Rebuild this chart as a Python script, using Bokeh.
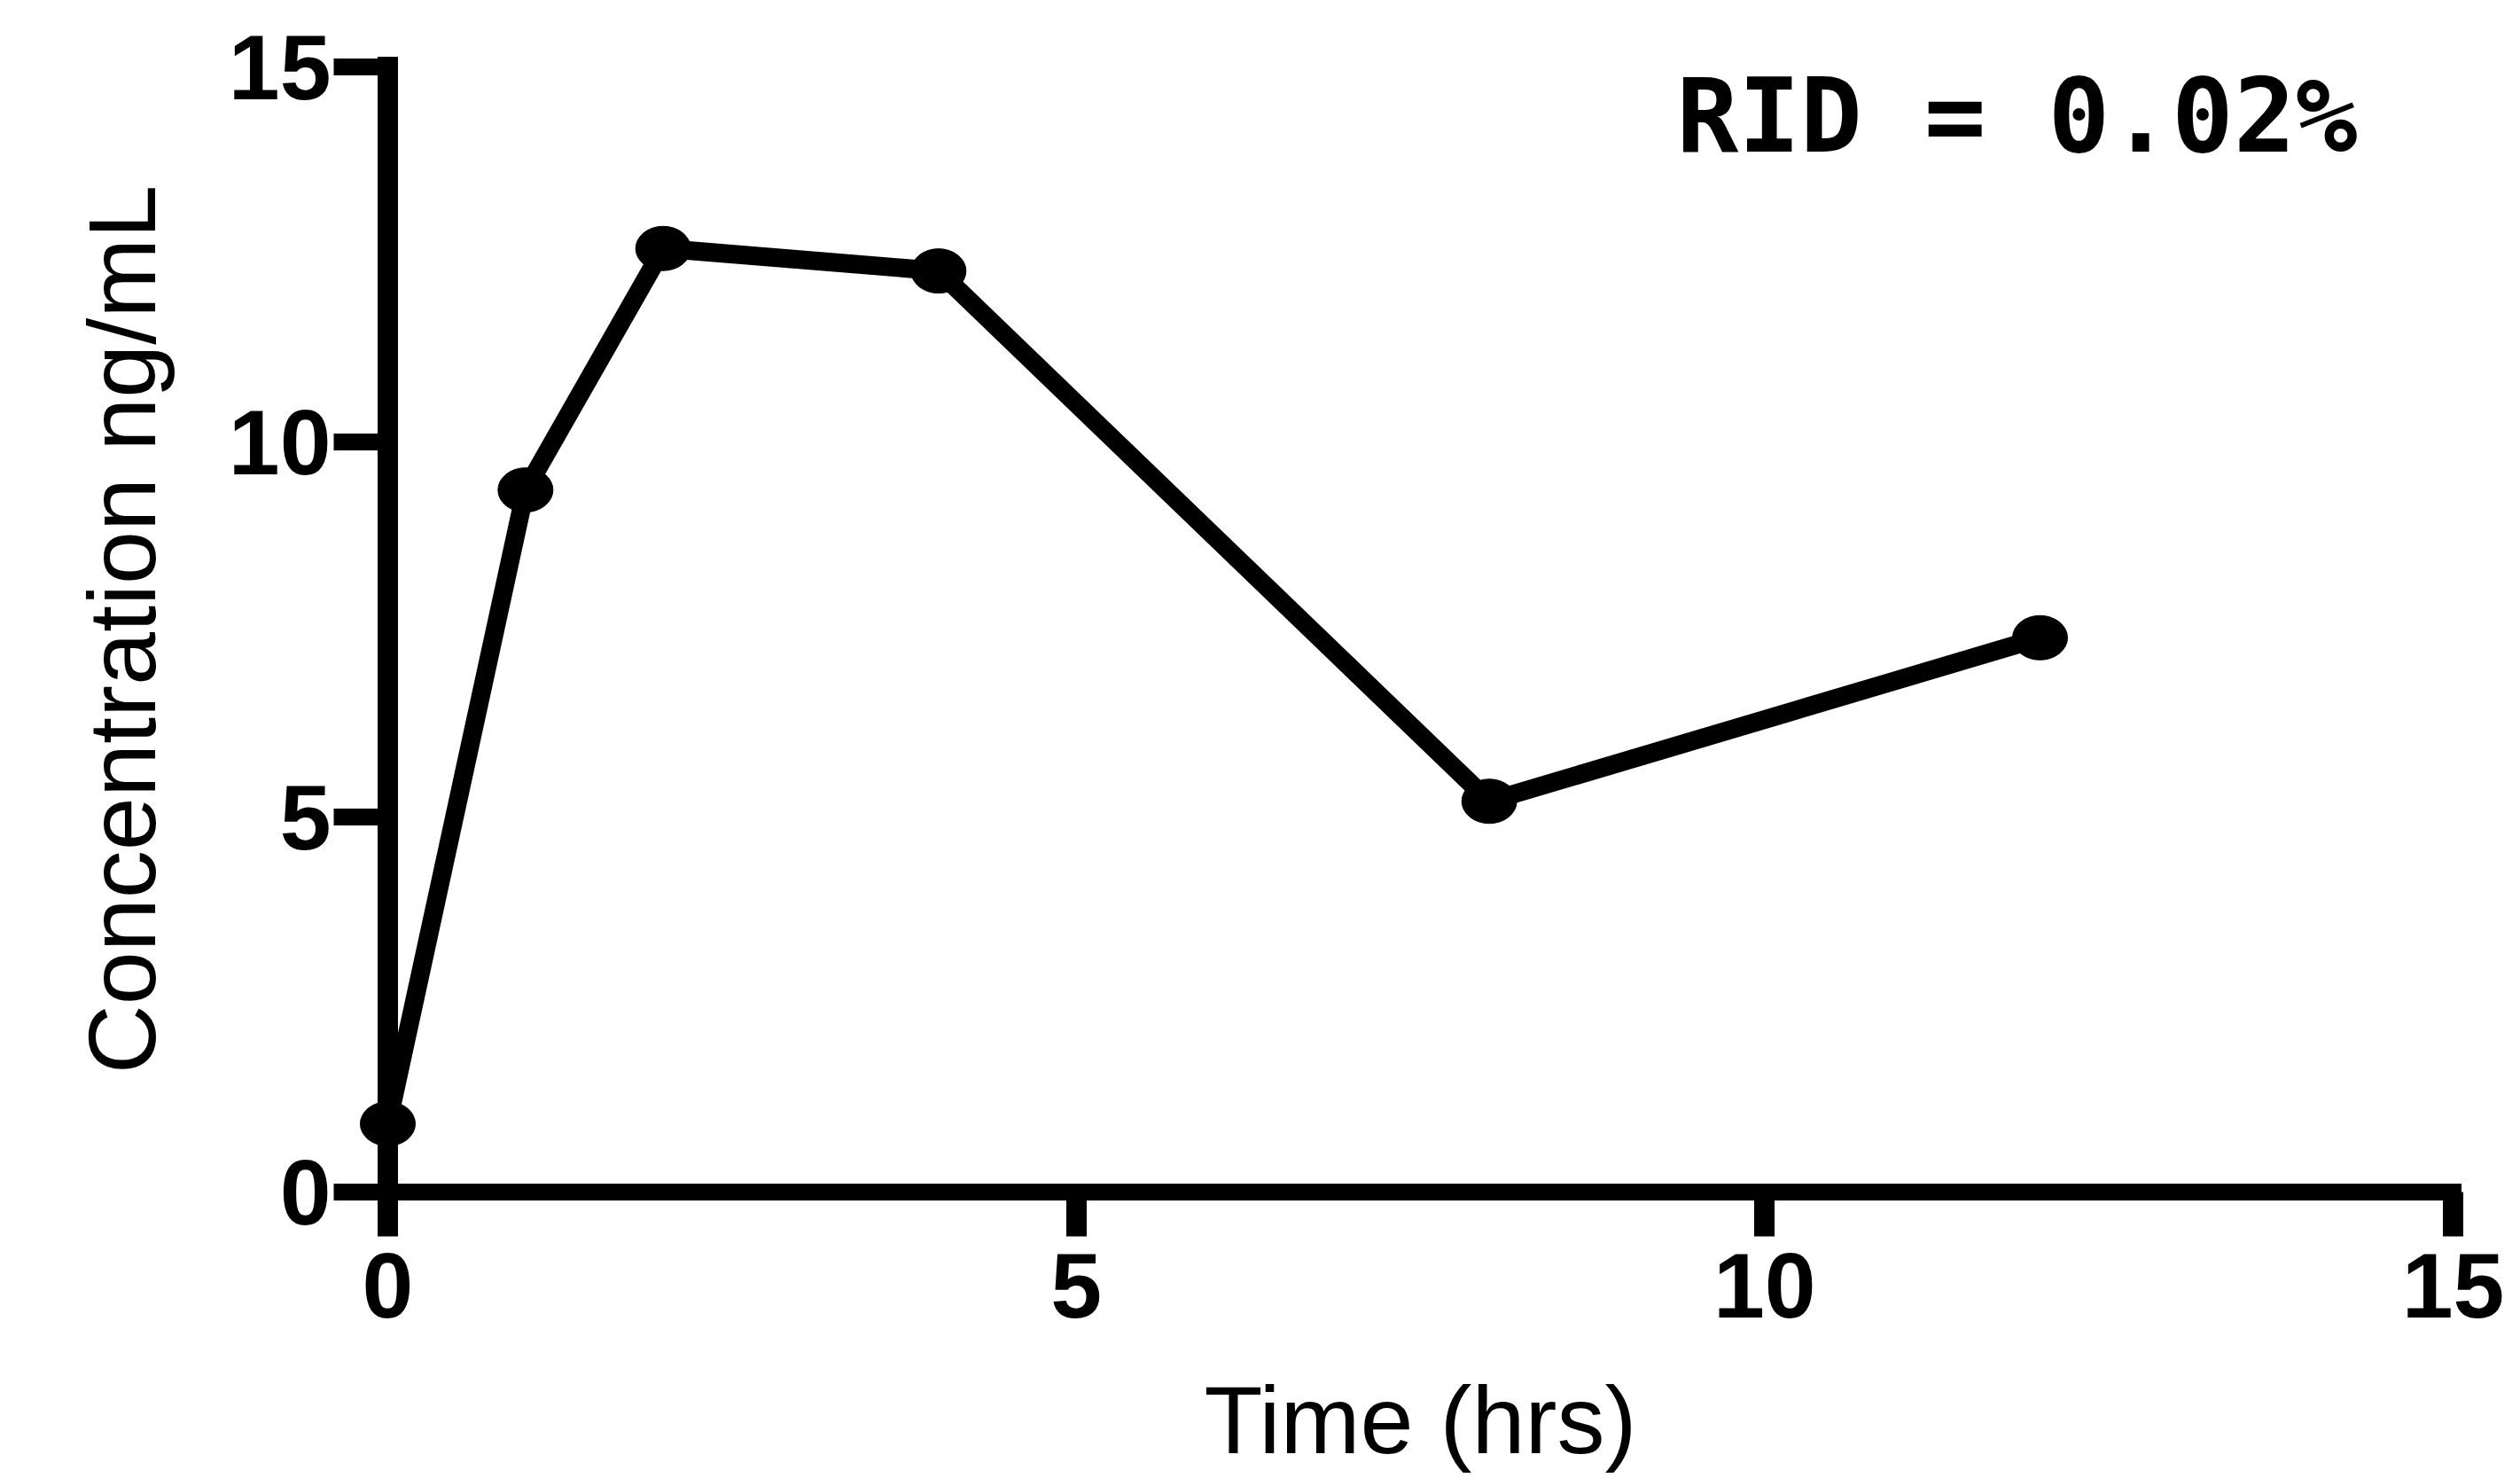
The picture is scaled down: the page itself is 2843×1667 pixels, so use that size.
from bokeh.plotting import figure
from bokeh.models import FixedTicker, Label, ColumnDataSource
from bokeh.embed import file_html
from bokeh.resources import INLINE

# ---- data ----
time_hrs = [0, 1, 2, 4, 8, 12]
conc_ng_ml = [0.91, 9.36, 12.58, 12.28, 5.21, 7.39]
x_ticks = [0, 5, 10, 15]
y_ticks = [0, 5, 10, 15]
x_title = "Time (hrs)"
y_title = "Concentration ng/mL"
annotation = "RID = 0.02%"

src = ColumnDataSource(data=dict(t=time_hrs, c=conc_ng_ml))

p = figure(width=2835, height=1667, x_range=(0, 15), y_range=(0, 15),
           output_backend="svg", toolbar_location=None,
           min_border_left=437, min_border_right=68,
           min_border_top=75, min_border_bottom=323)
p.outline_line_color = None
p.xgrid.visible = False
p.ygrid.visible = False
p.background_fill_color = "white"
p.border_fill_color = "white"

# axes
for ax, ticks in ((p.xaxis[0], x_ticks), (p.yaxis[0], y_ticks)):
    ax.ticker = FixedTicker(ticks=ticks)
    ax.axis_line_color = "black"
    ax.axis_line_cap = "square"
    ax.major_tick_line_color = "black"
    ax.major_tick_in = 0
    ax.minor_tick_line_color = None
    ax.minor_tick_out = 0
    ax.minor_tick_in = 0
    ax.major_label_text_font = "Arial"
    ax.major_label_text_font_style = "bold"
    ax.major_label_text_font_size = "104px"
    ax.major_label_text_color = "black"
    ax.axis_label_text_color = "black"
    ax.axis_label_text_font = "Liberation Sans"
    ax.axis_label_text_font_style = "normal"

p.xaxis.axis_line_width = 19
p.xaxis.major_tick_line_width = 23
p.xaxis.major_tick_out = 50
p.xaxis.major_label_standoff = 19
p.xaxis.axis_label = x_title
p.xaxis.axis_label_text_font_size = "108px"
p.xaxis.axis_label_standoff = 52

p.yaxis.axis_line_width = 23
p.yaxis.major_tick_line_width = 19
p.yaxis.major_tick_out = 61
p.yaxis.major_label_standoff = 3
p.yaxis.axis_label = y_title
p.yaxis.axis_label_text_font_size = "108px"
p.yaxis.axis_label_standoff = 57

# data line and markers (overlay level so the point on the axis is not clipped)
p.line("t", "c", source=src, line_color="black", line_width=21,
       line_join="round", level="overlay")
p.ellipse("t", "c", source=src, width=62, height=50,
          width_units="screen", height_units="screen",
          fill_color="black", line_color="black", level="overlay")

# annotation
p.add_layout(Label(x=9.36, y=14.35, text=annotation, text_align="left",
                   text_baseline="alphabetic", text_font="DejaVu Sans Mono",
                   text_font_style="bold", text_font_size="116px",
                   text_color="black"))

open("out.html", "w").write(file_html(p, INLINE))
